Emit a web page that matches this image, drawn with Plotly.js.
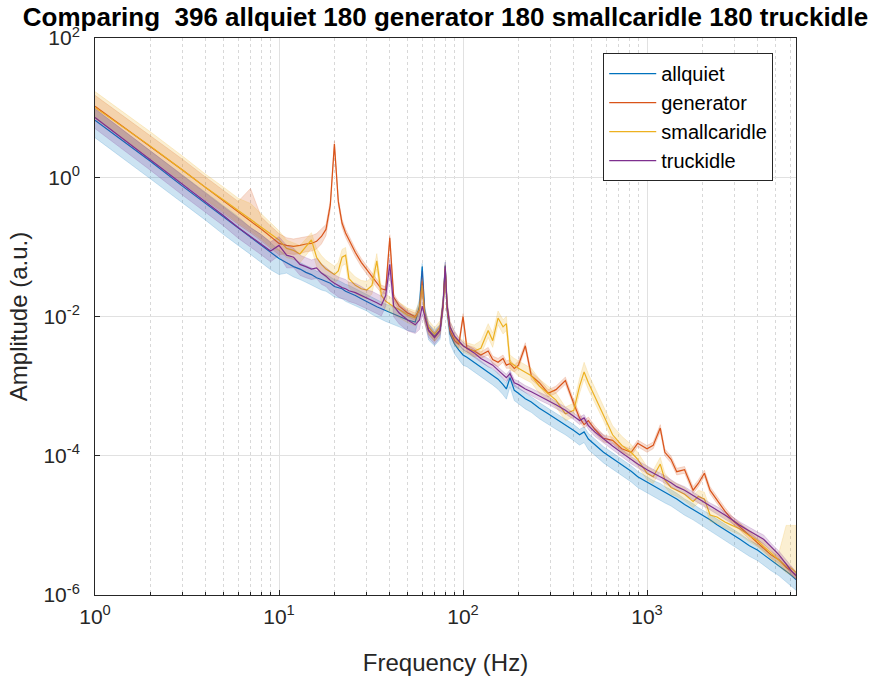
<!DOCTYPE html>
<html>
<head>
<meta charset="utf-8">
<script src="https://cdn.plot.ly/plotly-3.0.1.min.js"></script>
<style>html,body{margin:0;padding:0;background:#fff}#chart{width:875px;height:677px}</style>
</head>
<body>
<div id="chart"></div>
<script>
// Frequency bins (Hz)
const freq = [1,2,3,4,5,6,7,8,9,10,
  11,12,13,14,15,16,17,18,19,20,21,22,23,24,
  26,28,30,32,34,36,38,40,42,45,50,55,58,60,62,65,70,75,78,80,82,85,90,95,100,
  105,115,125,137,145,155,165,172,180,190,200,
  218,235,260,290,320,360,400,430,455,480,520,580,650,730,820,890,1000,
  1080,1180,1250,1350,1450,1600,1780,1900,2050,2200,2400,2650,2900,3200,3600,4000,4300,4700,5200,5700,6100,6450];

const seriesNames = ['allquiet','generator','smallcaridle','truckidle'];

// allquiet
const allquietMean = [6.6,1.7,0.74,0.42,0.27,0.19,0.138,0.105,0.083,0.068,
  0.059,0.052,0.048,0.043,0.040,0.036,0.034,0.032,0.030,0.027,0.026,0.025,0.023,0.022,
  0.020,0.018,0.0166,0.015,0.0138,0.0129,0.012,0.0115,0.0107,0.010,0.0089,0.0083,0.0141,0.052,0.0112,0.0063,0.0052,0.0063,0.0158,0.054,0.0126,0.0056,0.0040,0.0033,0.0028,
  0.0026,0.0022,0.0019,0.0016,0.00145,0.00126,0.00105,0.00091,0.00132,0.00087,0.00079,
  0.00066,0.00059,0.00048,0.0004,0.00034,0.00028,0.00023,0.0002,0.00022,0.000174,0.000145,0.000112,9.1e-5,7.4e-5,6.0e-5,5.0e-5,4.2e-5,
  3.7e-5,3.3e-5,3.0e-5,2.7e-5,2.4e-5,2.0e-5,1.7e-5,1.5e-5,1.35e-5,1.2e-5,1.02e-5,8.7e-6,7.4e-6,6.3e-6,5.1e-6,4.4e-6,3.8e-6,3.2e-6,2.7e-6,2.2e-6,1.9e-6,1.66e-6];
const allquietUpper = [9.5,2.4,1.05,0.6,0.38,0.27,0.19,0.15,0.115,0.09,
  0.075,0.066,0.06,0.054,0.05,0.045,0.043,0.04,0.037,0.034,0.033,0.031,0.029,0.028,
  0.025,0.023,0.021,0.019,0.0174,0.0162,0.015,0.0145,0.0135,0.0126,0.0112,0.0105,0.018,0.058,0.0135,0.0078,0.0064,0.0077,0.019,0.06,0.015,0.0068,0.0048,0.004,0.0034,
  0.0031,0.0027,0.0023,0.0019,0.00175,0.00152,0.00127,0.0011,0.0016,0.00105,0.00095,
  0.0008,0.00071,0.00058,0.00048,0.00041,0.00034,0.00028,0.00024,0.00026,0.00021,0.000175,0.000135,1.1e-4,8.9e-5,7.2e-5,6.0e-5,5.0e-5,
  4.4e-5,4.0e-5,3.6e-5,3.25e-5,2.9e-5,2.4e-5,2.05e-5,1.8e-5,1.62e-5,1.44e-5,1.23e-5,1.05e-5,8.9e-6,7.6e-6,6.1e-6,5.3e-6,4.6e-6,3.85e-6,3.25e-6,2.65e-6,2.3e-6,2.0e-6];
const allquietLower = [3.7,0.95,0.42,0.24,0.15,0.105,0.078,0.06,0.047,0.04,
  0.042,0.037,0.034,0.031,0.029,0.026,0.024,0.023,0.021,0.019,0.0185,0.018,0.0165,0.0158,
  0.0143,0.013,0.012,0.0107,0.0098,0.0091,0.0085,0.0081,0.0076,0.0071,0.0063,0.0059,0.0105,0.045,0.0085,0.0046,0.0038,0.0047,0.012,0.047,0.0095,0.0041,0.0029,0.0024,0.002,
  0.0019,0.0016,0.00137,0.00115,0.00104,0.0009,0.00075,0.00065,0.00098,0.00062,0.00056,
  0.00047,0.00042,0.00034,0.00028,0.00024,0.0002,0.000164,0.000142,0.000155,0.000122,0.000102,7.9e-5,6.4e-5,5.2e-5,4.2e-5,3.5e-5,2.95e-5,
  2.6e-5,2.3e-5,2.1e-5,1.9e-5,1.7e-5,1.4e-5,1.2e-5,1.05e-5,9.5e-6,8.4e-6,7.2e-6,6.1e-6,5.2e-6,4.4e-6,3.6e-6,3.1e-6,2.7e-6,2.25e-6,1.9e-6,1.55e-6,1.33e-6,1.17e-6];

// generator
const generatorMean = [10.5,2.8,1.26,0.71,0.46,0.32,0.24,0.18,0.141,0.112,
  0.105,0.102,0.105,0.11,0.112,0.12,0.141,0.178,0.4,3.0,0.45,0.22,0.158,0.126,
  0.083,0.06,0.047,0.037,0.03,0.025,0.024,0.135,0.019,0.0141,0.0112,0.01,0.0126,0.032,0.01,0.0063,0.005,0.0063,0.0141,0.048,0.0126,0.0063,0.0045,0.004,0.01,
  0.0035,0.0032,0.0028,0.0032,0.0024,0.0022,0.0025,0.002,0.0021,0.0018,0.002,
  0.0038,0.00141,0.00112,0.00079,0.00089,0.0012,0.00056,0.00035,0.00028,0.00032,0.00024,0.000178,0.000166,0.000126,0.000112,0.000151,0.000126,
  1.41e-4,2.5e-4,1.12e-4,8.9e-5,5.9e-5,6.3e-5,3.2e-5,4.0e-5,5.6e-5,3.2e-5,2.3e-5,1.6e-5,1.2e-5,9.5e-6,7.1e-6,5.6e-6,4.8e-6,3.8e-6,3.2e-6,2.5e-6,2.2e-6,1.9e-6];
const generatorUpper = [15,4.0,1.8,1.0,0.65,0.45,0.69,0.27,0.2,0.155,
  0.135,0.13,0.135,0.14,0.145,0.155,0.18,0.21,0.46,3.3,0.5,0.25,0.18,0.143,
  0.094,0.068,0.053,0.042,0.034,0.028,0.027,0.15,0.021,0.0158,0.0125,0.0112,0.0145,0.036,0.0115,0.0071,0.0056,0.0071,0.016,0.054,0.0142,0.0071,0.005,0.0045,0.011,
  0.0039,0.0036,0.0031,0.0036,0.0027,0.0025,0.0028,0.0023,0.0024,0.002,0.0023,
  0.0042,0.0016,0.00126,0.00089,0.001,0.00135,0.00063,0.0004,0.00032,0.00036,0.00027,0.0002,0.000185,0.00014,0.000125,0.000168,0.00014,
  1.57e-4,2.8e-4,1.25e-4,9.9e-5,6.6e-5,7.0e-5,3.6e-5,4.5e-5,6.2e-5,3.6e-5,2.6e-5,1.8e-5,1.35e-5,1.06e-5,8.0e-6,6.3e-6,5.4e-6,4.3e-6,3.6e-6,2.8e-6,2.5e-6,2.15e-6];
const generatorLower = [7,1.8,0.8,0.46,0.3,0.21,0.16,0.12,0.095,0.077,
  0.08,0.078,0.08,0.085,0.087,0.093,0.11,0.145,0.34,2.7,0.4,0.19,0.137,0.11,
  0.072,0.052,0.041,0.032,0.026,0.022,0.021,0.12,0.017,0.0124,0.0099,0.0088,0.011,0.028,0.0088,0.0055,0.0044,0.0055,0.0124,0.042,0.011,0.0055,0.004,0.0035,0.009,
  0.0031,0.0028,0.0025,0.0028,0.0021,0.0019,0.0022,0.0018,0.0018,0.0016,0.0018,
  0.0034,0.00124,0.00099,0.0007,0.00079,0.00106,0.0005,0.00031,0.00025,0.00028,0.00021,0.000158,0.000148,0.000112,0.0001,0.000135,0.000112,
  1.26e-4,2.2e-4,1.0e-4,7.9e-5,5.3e-5,5.6e-5,2.85e-5,3.6e-5,5.0e-5,2.85e-5,2.05e-5,1.43e-5,1.07e-5,8.5e-6,6.3e-6,5.0e-6,4.3e-6,3.4e-6,2.85e-6,2.2e-6,1.95e-6,1.7e-6];

// smallcaridle
const smallcaridleMean = [10,2.8,1.26,0.71,0.47,0.33,0.25,0.19,0.15,0.126,
  0.095,0.089,0.079,0.1,0.126,0.071,0.056,0.048,0.044,0.04,0.045,0.071,0.076,0.035,
  0.028,0.025,0.024,0.028,0.063,0.02,0.0166,0.015,0.0138,0.0126,0.0105,0.0095,0.0126,0.028,0.01,0.0071,0.0056,0.0071,0.0158,0.05,0.0141,0.0071,0.005,0.0042,0.0038,
  0.0035,0.0032,0.0035,0.0063,0.0045,0.0095,0.0071,0.0079,0.0022,0.002,0.0018,
  0.00158,0.00141,0.001,0.00079,0.00063,0.0004,0.00045,0.001,0.0016,0.00112,0.00071,0.0004,0.0002,0.000141,0.000112,8.9e-5,5.6e-5,
  5.0e-5,7.6e-5,4.5e-5,3.5e-5,3.2e-5,2.8e-5,2.2e-5,2.6e-5,2.4e-5,1.41e-5,1.32e-5,1.12e-5,1.0e-5,8.9e-6,7.1e-6,6.0e-6,5.0e-6,4.0e-6,3.2e-6,2.6e-6,2.4e-6,2.1e-6];
const smallcaridleUpper = [17,4.5,2.0,1.1,0.72,0.5,0.42,0.3,0.22,0.17,
  0.125,0.115,0.105,0.13,0.16,0.095,0.075,0.064,0.058,0.053,0.06,0.092,0.098,0.046,
  0.037,0.033,0.032,0.037,0.08,0.026,0.021,0.019,0.0175,0.016,0.0132,0.012,0.016,0.034,0.0125,0.0088,0.0069,0.0087,0.019,0.057,0.017,0.0086,0.006,0.005,0.0046,
  0.0042,0.0039,0.0045,0.0079,0.0058,0.012,0.009,0.01,0.0028,0.0025,0.0023,
  0.002,0.0018,0.00127,0.001,0.0008,0.0005,0.00057,0.0013,0.0022,0.0015,0.00095,0.00053,0.00027,0.00019,0.000145,0.000112,7.0e-5,
  6.2e-5,9.5e-5,5.6e-5,4.4e-5,4.0e-5,3.5e-5,2.7e-5,3.2e-5,3.0e-5,1.75e-5,1.6e-5,1.36e-5,1.2e-5,1.07e-5,8.5e-6,7.2e-6,6.0e-6,4.8e-6,4.0e-6,1.0e-5,1.0e-5,1.0e-5];
const smallcaridleLower = [7,1.9,0.85,0.48,0.32,0.22,0.17,0.13,0.1,0.088,
  0.07,0.066,0.059,0.075,0.095,0.053,0.042,0.036,0.033,0.03,0.034,0.053,0.057,0.026,
  0.021,0.019,0.018,0.021,0.048,0.015,0.0126,0.0115,0.0105,0.0096,0.0081,0.0073,0.0097,0.022,0.0078,0.0056,0.0044,0.0056,0.0126,0.043,0.0113,0.0057,0.004,0.0034,0.0031,
  0.0029,0.0026,0.0028,0.005,0.0036,0.0076,0.0056,0.0063,0.0017,0.0016,0.0014,
  0.00125,0.00112,0.00079,0.00063,0.0005,0.00032,0.00036,0.00079,0.00126,0.00089,0.00056,0.00032,0.000158,0.000112,8.9e-5,7.1e-5,4.5e-5,
  4.0e-5,6.0e-5,3.6e-5,2.8e-5,2.6e-5,2.25e-5,1.8e-5,2.1e-5,1.95e-5,1.14e-5,1.07e-5,9.1e-6,8.2e-6,7.3e-6,5.8e-6,4.9e-6,4.1e-6,3.3e-6,2.6e-6,2.1e-6,1.9e-6,1.7e-6];

// truckidle
const truckidleMean = [7.2,1.8,0.79,0.44,0.28,0.19,0.141,0.11,0.087,0.105,
  0.076,0.071,0.056,0.052,0.048,0.05,0.042,0.038,0.033,0.030,0.0275,0.026,0.025,0.0234,
  0.022,0.020,0.018,0.017,0.0158,0.0145,0.02,0.056,0.0141,0.0112,0.0089,0.0076,0.0089,0.0141,0.01,0.0063,0.005,0.0063,0.0158,0.052,0.0141,0.0071,0.0052,0.0044,0.0038,
  0.0035,0.003,0.0025,0.0022,0.002,0.0017,0.00148,0.00132,0.00151,0.00112,0.00105,
  0.00091,0.00083,0.00072,0.00063,0.00054,0.00045,0.00037,0.00032,0.00035,0.00027,0.00022,0.000174,0.000138,0.00011,8.7e-5,7.6e-5,6.3e-5,
  5.6e-5,5.0e-5,4.6e-5,4.1e-5,3.6e-5,3.2e-5,2.7e-5,2.4e-5,2.1e-5,1.9e-5,1.66e-5,1.41e-5,1.2e-5,1.0e-5,8.3e-6,7.1e-6,6.3e-6,5.0e-6,3.8e-6,2.8e-6,2.2e-6,1.9e-6];
const truckidleUpper = [9.7,2.4,1.07,0.6,0.38,0.26,0.19,0.15,0.118,0.14,
  0.105,0.096,0.076,0.07,0.065,0.068,0.057,0.051,0.045,0.04,0.037,0.035,0.034,0.031,
  0.03,0.027,0.024,0.023,0.021,0.0196,0.027,0.07,0.019,0.015,0.012,0.0095,0.013,0.045,0.013,0.0078,0.006,0.0076,0.019,0.06,0.017,0.0085,0.0062,0.0049,0.0043,
  0.0039,0.0034,0.0028,0.0025,0.0022,0.0019,0.00166,0.00148,0.0017,0.00125,0.00118,
  0.00102,0.00093,0.00081,0.00071,0.0006,0.0005,0.00041,0.00036,0.00039,0.0003,0.00025,0.000195,0.000155,0.000123,9.7e-5,8.5e-5,7.1e-5,
  6.3e-5,5.6e-5,5.2e-5,4.6e-5,4.0e-5,3.6e-5,3.0e-5,2.7e-5,2.35e-5,2.1e-5,1.86e-5,1.58e-5,1.34e-5,1.12e-5,9.3e-6,8.0e-6,7.3e-6,5.6e-6,4.3e-6,3.2e-6,2.5e-6,2.15e-6];
const truckidleLower = [5.0,1.26,0.55,0.31,0.2,0.133,0.1,0.077,0.061,0.075,
  0.05,0.05,0.039,0.036,0.034,0.035,0.029,0.027,0.023,0.021,0.019,0.018,0.0175,0.0164,
  0.0154,0.014,0.0126,0.0119,0.011,0.0102,0.014,0.042,0.0099,0.0078,0.0062,0.0057,0.0065,0.0105,0.0078,0.005,0.004,0.005,0.0126,0.044,0.0113,0.0057,0.0042,0.0039,0.0033,
  0.0031,0.0026,0.0022,0.0019,0.0018,0.0015,0.0013,0.00116,0.00133,0.00099,0.00092,
  0.0008,0.00073,0.00063,0.00055,0.00048,0.0004,0.00033,0.00028,0.00031,0.00024,0.00019,0.000153,0.000121,9.7e-5,7.7e-5,6.7e-5,5.5e-5,
  4.9e-5,4.4e-5,4.0e-5,3.6e-5,3.2e-5,2.8e-5,2.4e-5,2.1e-5,1.85e-5,1.67e-5,1.46e-5,1.24e-5,1.06e-5,8.8e-6,7.3e-6,6.2e-6,5.4e-6,4.4e-6,3.3e-6,2.5e-6,1.95e-6,1.68e-6];

const xTickVals = [1,10,100,1000];
const xTickText = ['10<sup>0</sup>','10<sup>1</sup>','10<sup>2</sup>','10<sup>3</sup>'];
const yTickVals = [1e-6,1e-4,1e-2,1,100];
const yTickText = ['10<sup>-6</sup>','10<sup>-4</sup>','10<sup>-2</sup>','10<sup>0</sup>','10<sup>2</sup>'];
const xMinorTicks = [2,3,4,5,6,7,8,9,20,30,40,50,60,70,80,90,200,300,400,500,600,700,800,900,2000,3000,4000,5000,6000];

const rgb = {
  allquiet:[0,114,189], generator:[217,83,25], smallcaridle:[237,177,32], truckidle:[126,47,142]
};
const data = {
  allquiet:[allquietMean, allquietUpper, allquietLower],
  generator:[generatorMean, generatorUpper, generatorLower],
  smallcaridle:[smallcaridleMean, smallcaridleUpper, smallcaridleLower],
  truckidle:[truckidleMean, truckidleUpper, truckidleLower]
};

const traces = [];
seriesNames.forEach(function(name){
  const c = rgb[name];
  const d = data[name];
  const revF = freq.slice().reverse();
  traces.push({
    x: freq.concat(revF),
    y: d[1].concat(d[2].slice().reverse()),
    type:'scatter', mode:'lines', fill:'toself',
    fillcolor:'rgba('+c.join(',')+',0.2)',
    line:{color:'rgba('+c.join(',')+',0.3)', width:0.6},
    hoverinfo:'skip', showlegend:false
  });
  traces.push({
    x: freq, y: d[0], type:'scatter', mode:'lines', name:name,
    line:{color:'rgb('+c.join(',')+')', width:1.2}
  });
});

const axisCommon = {
  type:'log', showline:true, mirror:true, linecolor:'#262626', linewidth:1,
  ticks:'inside', ticklen:5, tickcolor:'#262626', tickwidth:1,
  showgrid:true, gridcolor:'#e1e1e1', gridwidth:1, zeroline:false,
  tickfont:{size:21, color:'#262626'}, automargin:false
};

const layout = {
  width:875, height:677,
  margin:{l:95, r:79, t:38, b:82},
  paper_bgcolor:'#ffffff', plot_bgcolor:'#ffffff',
  font:{family:'"Liberation Sans", Arial, Helvetica, sans-serif', color:'#262626'},
  title:{text:'<b>Comparing&nbsp; 396 allquiet 180 generator 180 smallcaridle 180 truckidle</b>',
    font:{size:26, color:'#000000'}, x:0.5, xref:'paper', xanchor:'center', y:0.975, yref:'container', yanchor:'middle'},
  xaxis: Object.assign({}, axisCommon, {
    range:[0, 3.8096], tickmode:'array', tickvals:xTickVals, ticktext:xTickText,
    ticklabelstandoff:3,
    minor:{tickmode:'array', tickvals:xMinorTicks, showgrid:true, gridcolor:'#d8d8d8', griddash:'dot', gridwidth:1, ticks:'inside', ticklen:3, tickcolor:'#262626'},
    title:{text:'Frequency (Hz)', font:{size:24, color:'#262626'}, standoff:26}
  }),
  yaxis: Object.assign({}, axisCommon, {
    range:[-6, 2], tickmode:'array', tickvals:yTickVals, ticktext:yTickText,
    ticklabelstandoff:10,
    title:{text:'Amplitude (a.u.)', font:{size:24, color:'#262626'}, standoff:8}
  }),
  legend:{x:0.725, y:0.973, xanchor:'left', yanchor:'top', bgcolor:'#ffffff', bordercolor:'#262626', borderwidth:1,
    font:{size:20, color:'#000000'}, itemwidth:47, tracegroupgap:0},
  showlegend:true
};

Plotly.newPlot('chart', traces, layout, {displayModeBar:false, staticPlot:true});
</script>
</body>
</html>
